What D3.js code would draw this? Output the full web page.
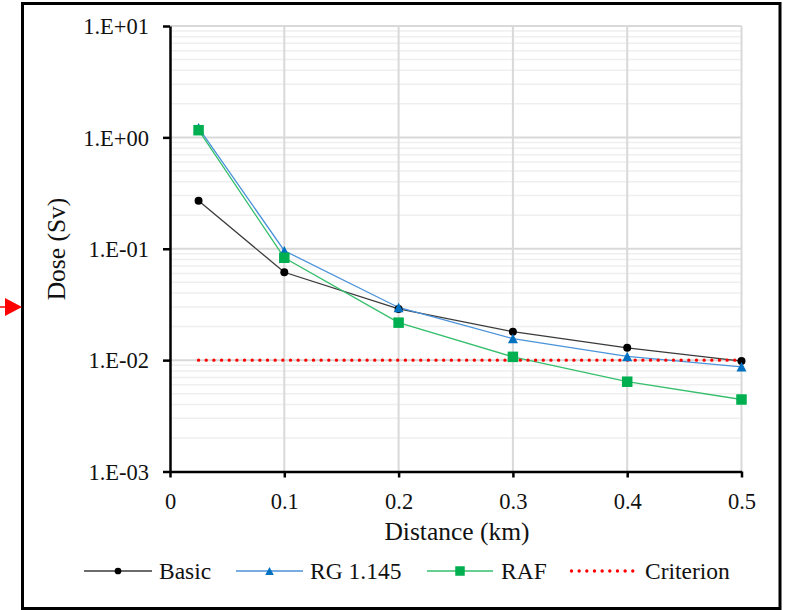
<!DOCTYPE html>
<html>
<head>
<meta charset="utf-8">
<script src="https://cdn.jsdelivr.net/npm/d3@7"></script>
<style>
  html, body { margin: 0; padding: 0; background: #fff; }
  svg { display: block; }
</style>
</head>
<body>
<svg id="chart" width="787" height="610"></svg>
<script>
// Distances (km) at which the dose was evaluated
const distances = [0.025, 0.1, 0.2, 0.3, 0.4, 0.5];

// Dose (Sv) per calculation method
const basicDose = [0.27, 0.0615, 0.0288, 0.0180, 0.0129, 0.0098];
const rgDose    = [1.22, 0.096, 0.0297, 0.0156, 0.0108, 0.0087];
const rafDose   = [1.16, 0.0830, 0.0217, 0.0107, 0.0064, 0.00443];

// Dose criterion (Sv), drawn over the distance range
const criterionDose = 0.01;
const criterionRange = [0.025, 0.5];

// Axis ticks
const xTickValues = [0, 0.1, 0.2, 0.3, 0.4, 0.5];
const xTickLabels = ["0", "0.1", "0.2", "0.3", "0.4", "0.5"];
const yTickValues = [1e-3, 1e-2, 1e-1, 1e0, 1e1];
const yTickLabels = ["1.E-03", "1.E-02", "1.E-01", "1.E+00", "1.E+01"];

const seriesNames = ["Basic", "RG 1.145", "RAF", "Criterion"];

const FONT = "Liberation Serif";

const svg = d3.select("#chart");

const plot = { left: 170, right: 741.5, top: 26, bottom: 471.5 };

const x = d3.scaleLinear().domain([0, 0.5]).range([plot.left, plot.right]);
const y = d3.scaleLog().domain([1e-3, 1e1]).range([plot.bottom, plot.top]);

// Outer frame
svg.append("rect")
  .attr("x", 22.5).attr("y", 3.5)
  .attr("width", 757.5).attr("height", 605)
  .attr("fill", "#fff").attr("stroke", "#000").attr("stroke-width", 3);

// Red pointer arrow at the left edge
svg.append("line")
  .attr("x1", 0).attr("x2", 7).attr("y1", 307).attr("y2", 307)
  .attr("stroke", "#ff0000").attr("stroke-width", 1.5);
svg.append("path")
  .attr("d", "M5,298 L22,307 L5,316 Z")
  .attr("fill", "#ff0000");

// Minor horizontal gridlines (2..9 within each decade)
const minorVals = [];
for (let e = -3; e < 1; e++) {
  for (let m = 2; m <= 9; m++) minorVals.push(m * Math.pow(10, e));
}
const grid = svg.append("g");
grid.selectAll("line.minor").data(minorVals).join("line")
  .attr("class", "minor")
  .attr("x1", plot.left).attr("x2", plot.right)
  .attr("y1", d => y(d)).attr("y2", d => y(d))
  .attr("stroke", "#efefef").attr("stroke-width", 1.5);

// Major gridlines
grid.selectAll("line.hmajor").data(yTickValues.slice(1)).join("line")
  .attr("class", "hmajor")
  .attr("x1", plot.left).attr("x2", plot.right)
  .attr("y1", d => y(d)).attr("y2", d => y(d))
  .attr("stroke", "#d9d9d9").attr("stroke-width", 2);
grid.selectAll("line.vmajor").data(xTickValues.slice(1)).join("line")
  .attr("class", "vmajor")
  .attr("x1", d => x(d)).attr("x2", d => x(d))
  .attr("y1", plot.top).attr("y2", plot.bottom)
  .attr("stroke", "#d9d9d9").attr("stroke-width", 2);

// Axes
const yAxis = d3.axisLeft(y)
  .tickValues(yTickValues)
  .tickFormat((d, i) => yTickLabels[i])
  .tickSize(7).tickSizeOuter(0).tickPadding(14);
const xAxis = d3.axisBottom(x)
  .tickValues(xTickValues)
  .tickFormat((d, i) => xTickLabels[i])
  .tickSize(6).tickSizeOuter(0).tickPadding(16);

const gy = svg.append("g").attr("transform", `translate(${plot.left},0)`).call(yAxis);
const gx = svg.append("g").attr("transform", `translate(0,${plot.bottom})`).call(xAxis);

[gx, gy].forEach(g => {
  g.attr("font-family", FONT).attr("font-size", 22.5);
  g.select(".domain").attr("stroke", "#000").attr("stroke-width", 2.5);
  g.selectAll(".tick line").attr("stroke", "#000").attr("stroke-width", 2.5);
  g.selectAll(".tick text").style("font-family", FONT).attr("fill", "#111");
});
gy.selectAll(".tick text").attr("dy", "0.34em");

// Axis titles
svg.append("text")
  .attr("x", 457).attr("y", 540)
  .attr("text-anchor", "middle").attr("font-size", 25.5)
  .style("font-family", FONT).attr("fill", "#111")
  .text("Distance (km)");
svg.append("text")
  .attr("transform", "translate(65,249) rotate(-90)")
  .attr("text-anchor", "middle").attr("font-size", 25.5)
  .style("font-family", FONT).attr("fill", "#111")
  .text("Dose (Sv)");

// Series
const series = [
  { name: seriesNames[0], values: basicDose, line: "#3a3a3a", fill: "#000000", marker: "circle" },
  { name: seriesNames[1], values: rgDose,    line: "#4a92da", fill: "#0070c0", marker: "triangle" },
  { name: seriesNames[2], values: rafDose,   line: "#35bf6c", fill: "#00b050", marker: "square" }
];

const lineGen = d3.line().x(d => x(d[0])).y(d => y(d[1]));

const marks = svg.append("g");

series.forEach(s => {
  const pts = distances.map((d, i) => [d, s.values[i]]);
  marks.append("path")
    .attr("d", lineGen(pts))
    .attr("fill", "none").attr("stroke", s.line).attr("stroke-width", 1.3);
});

// Criterion dotted line
marks.append("path")
  .attr("d", lineGen(criterionRange.map(d => [d, criterionDose])))
  .attr("fill", "none").attr("stroke", "#ff0000").attr("stroke-width", 3.4)
  .attr("stroke-linecap", "round").attr("stroke-dasharray", "0.01 7.65");

function drawMarker(g, type, cx, cy, size, fill) {
  if (type === "circle") {
    g.append("circle").attr("cx", cx).attr("cy", cy).attr("r", size * 0.42).attr("fill", fill);
  } else if (type === "triangle") {
    const h = size * 0.95, w = size;
    g.append("path")
      .attr("d", `M${cx},${cy - h / 2} L${cx + w / 2},${cy + h / 2} L${cx - w / 2},${cy + h / 2} Z`)
      .attr("fill", fill);
  } else {
    g.append("rect").attr("x", cx - size / 2).attr("y", cy - size / 2)
      .attr("width", size).attr("height", size).attr("fill", fill);
  }
}

series.forEach(s => {
  distances.forEach((d, i) => {
    drawMarker(marks, s.marker, x(d), y(s.values[i]), s.marker === "square" ? 10.5 : (s.marker === "triangle" ? 10 : 9.5), s.fill);
  });
});

// Legend
const legendY = 571;
const legendItems = [
  { x0: 84,  x1: 152, tx: 159, s: series[0] },
  { x0: 236, x1: 303, tx: 310, s: series[1] },
  { x0: 427, x1: 493, tx: 501, s: series[2] },
  { x0: 570, x1: 637, tx: 645, s: null }
];
const legend = svg.append("g");
legendItems.forEach((it, i) => {
  if (it.s) {
    legend.append("line")
      .attr("x1", it.x0).attr("x2", it.x1).attr("y1", legendY).attr("y2", legendY)
      .attr("stroke", it.s.line).attr("stroke-width", 1.3);
    const sz = it.s.marker === "square" ? 9.5 : (it.s.marker === "triangle" ? 8.5 : 8);
    drawMarker(legend, it.s.marker, (it.x0 + it.x1) / 2, legendY, sz, it.s.fill);
  } else {
    legend.append("line")
      .attr("x1", it.x0 + 1.5).attr("x2", it.x1).attr("y1", legendY).attr("y2", legendY)
      .attr("stroke", "#ff0000").attr("stroke-width", 3.4)
      .attr("stroke-linecap", "round").attr("stroke-dasharray", "0.01 7.65");
  }
  legend.append("text")
    .attr("x", it.tx).attr("y", legendY + 8)
    .attr("font-size", 23.5)
    .style("font-family", FONT).attr("fill", "#111")
    .text(seriesNames[i]);
});
</script>
</body>
</html>
